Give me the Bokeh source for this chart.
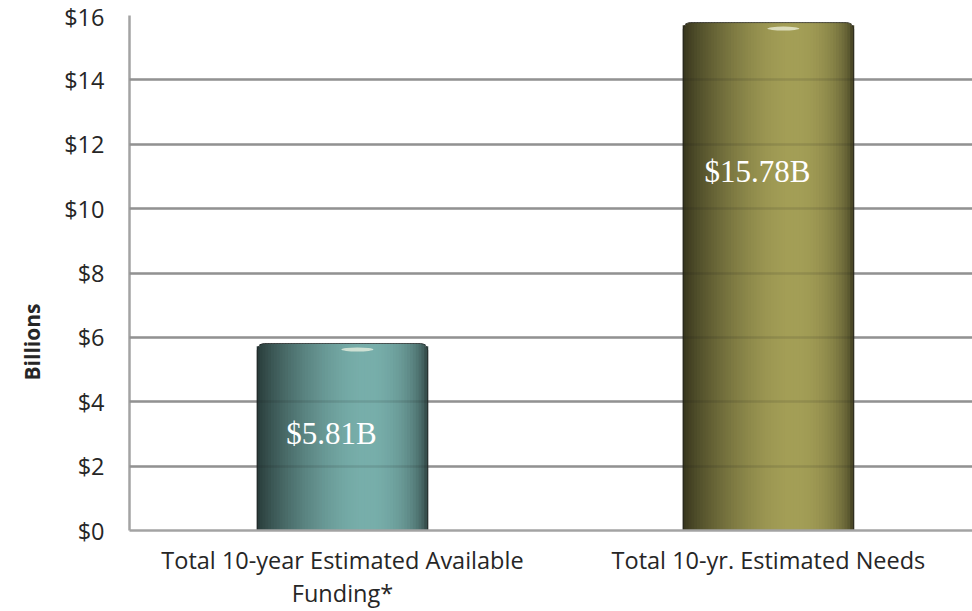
import numpy as np
from bokeh.plotting import figure
from bokeh.models import FixedTicker, Grid, Range1d, ColumnDataSource, LinearAxis, Title
from bokeh.core.properties import value
from bokeh.embed import file_html
from bokeh.resources import INLINE

# ---- data ----
categories = ["Total 10-year Estimated Available\nFunding*", "Total 10-yr. Estimated Needs"]
amounts = [5.81, 15.78]
bar_labels = ["$5.81B", "$15.78B"]
y_ticks = [0, 2, 4, 6, 8, 10, 12, 14, 16]
y_tick_labels = ["$0", "$2", "$4", "$6", "$8", "$10", "$12", "$14", "$16"]
y_title = "Billions"

# ---- style / layout constants ----
peak_colors = [(0x78, 0xAF, 0xAB), (0xA4, 0x9F, 0x57)]
label_y = [3.0, 11.15]
BAR_W = 0.4
PX_X = 426.0   # pixels per x unit
PX_Y = 32.25   # pixels per y unit
RADIUS = 7     # corner radius px
N = 60
GRID = "#a3a3a3"
TXT = "#262626"
FONT = "Open Sans"

p = figure(width=972, height=611, output_backend="svg", toolbar_location=None,
           x_range=Range1d(-0.5, 1.479), y_range=Range1d(0, 16),
           min_border_left=129, min_border_right=0, min_border_top=15,
           min_border_bottom=80)
p.outline_line_color = None
p.background_fill_color = "white"


def shade(t):
    return 0.32 + 0.68 * np.sqrt(np.sin(np.pi * t ** 1.6))


xs, tops, ws, cols = [], [], [], []
for i, (amt, pc) in enumerate(zip(amounts, peak_colors)):
    for k in range(N):
        t = (k + 0.5) / N
        d = min(t, 1 - t) * BAR_W * PX_X
        low = 0.0
        if d < RADIUS:
            low = RADIUS - np.sqrt(max(RADIUS ** 2 - (RADIUS - d) ** 2, 0))
        f = shade(t)
        c = tuple(int(min(255, v * f)) for v in pc)
        xs.append(i + (t - 0.5) * BAR_W)
        tops.append(amt - low / PX_Y)
        ws.append(BAR_W / N * 1.4)
        cols.append("#%02x%02x%02x" % c)

src = ColumnDataSource(dict(x=xs, top=tops, w=ws, c=cols))
p.vbar(x="x", top="top", width="w", bottom=0, fill_color="c", line_color=None, source=src)

bar_x = list(range(len(amounts)))
p.vbar(x=bar_x, top=amounts, width=BAR_W, bottom=0, fill_color=None,
       line_color="#1e1e1e", line_alpha=0.7, line_width=1,
       border_radius=(RADIUS, RADIUS, 0, 0))

# top highlight
p.ellipse(x=[x + 0.035 for x in bar_x], y=[a - 6 / PX_Y for a in amounts],
          width=0.075, height=4 / PX_Y, fill_color="#f4f6e6", fill_alpha=0.7, line_color=None)

# value labels
p.text(x=[x - 0.026 for x in bar_x], y=label_y, text=bar_labels,
       text_font=value("Liberation Serif"), text_font_size="31px",
       text_color="white", text_align="center", text_baseline="middle")

# y axis
p.yaxis.ticker = FixedTicker(ticks=y_ticks)
p.yaxis.major_label_overrides = {t: l for t, l in zip(y_ticks, y_tick_labels)}
p.yaxis.major_label_text_font = FONT
p.yaxis.major_label_text_font_size = "23.5px"
p.yaxis.major_label_text_color = TXT
p.yaxis.major_label_standoff = 19
p.yaxis.axis_line_color = GRID
p.yaxis.axis_line_width = 2.5
p.yaxis.major_tick_line_color = None
p.yaxis.minor_tick_line_color = None

p.add_layout(Title(text=y_title, align="left", offset=150, text_font=FONT,
                   text_font_size="21px", text_font_style="bold", text_color=TXT,
                   standoff=28, vertical_align="top"), "left")

# x axis, first lines
first_lines = [c.split("\n")[0] for c in categories]
p.xaxis.ticker = FixedTicker(ticks=bar_x)
p.xaxis.major_label_overrides = {i: c for i, c in enumerate(first_lines)}
p.xaxis.major_label_text_font = FONT
p.xaxis.major_label_text_font_size = "23.5px"
p.xaxis.major_label_text_color = TXT
p.xaxis.major_label_standoff = 7
p.xaxis.axis_line_color = GRID
p.xaxis.axis_line_width = 2.5
p.xaxis.major_tick_line_color = None
p.xaxis.minor_tick_line_color = None

# x axis, second lines
second = {i: c.split("\n")[1] for i, c in enumerate(categories) if "\n" in c}
ax2 = LinearAxis(ticker=FixedTicker(ticks=list(second.keys())),
                 major_label_overrides=second,
                 major_label_text_font=FONT, major_label_text_font_size="23.5px",
                 major_label_text_color=TXT, major_label_standoff=-8,
                 axis_line_color=None, major_tick_line_color=None,
                 minor_tick_line_color=None)
p.add_layout(ax2, "below")

p.xgrid.grid_line_color = None
p.ygrid.ticker = FixedTicker(ticks=y_ticks)
p.ygrid.grid_line_color = GRID
p.ygrid.grid_line_width = 2.5

# faint gridlines visible through bars
over = Grid(dimension=1, ticker=FixedTicker(ticks=y_ticks[1:]), grid_line_color="#1a1a1a",
            grid_line_alpha=0.12, grid_line_width=2.5, level="annotation")
p.add_layout(over)

open("out.html", "w").write(file_html(p, INLINE))
